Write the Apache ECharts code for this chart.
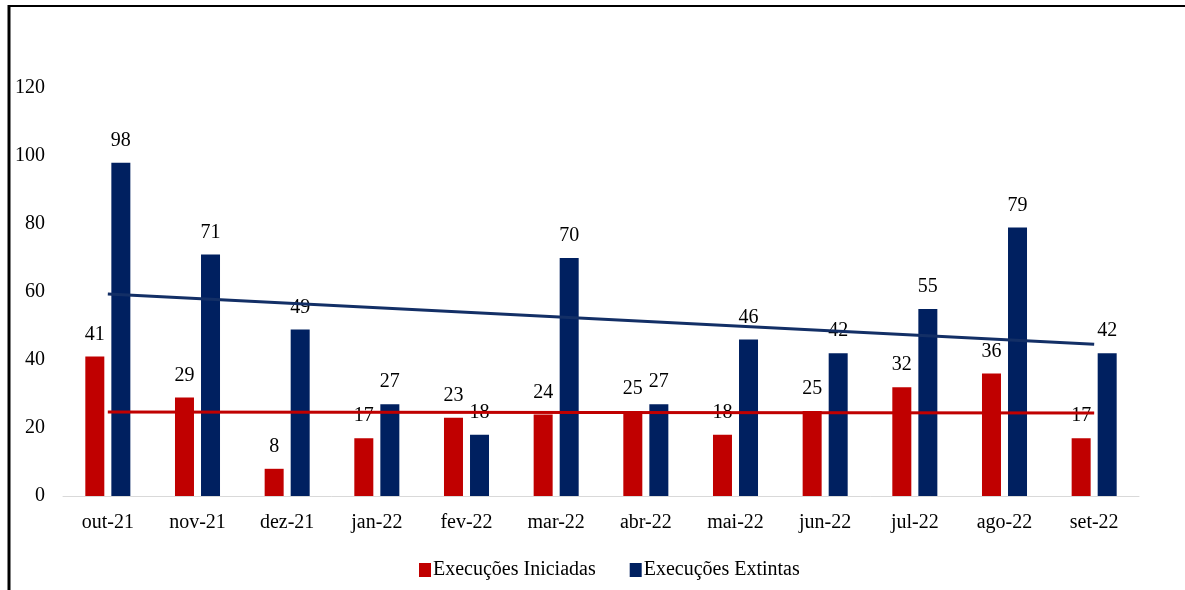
<!DOCTYPE html>
<html>
<head>
<meta charset="utf-8">
<script src="https://cdn.jsdelivr.net/npm/echarts@6/dist/echarts.min.js"></script>
<style>
  html, body { margin: 0; padding: 0; background: #fff; }
  #main { width: 1185px; height: 590px; }
</style>
</head>
<body>
<div id="main"></div>
<script>
// dados do gráfico
const meses = ['out-21', 'nov-21', 'dez-21', 'jan-22', 'fev-22', 'mar-22', 'abr-22', 'mai-22', 'jun-22', 'jul-22', 'ago-22', 'set-22']
const iniciadas = [41, 29, 8, 17, 23, 24, 25, 18, 25, 32, 36, 17]
const extintas = [98, 71, 49, 27, 18, 70, 27, 46, 42, 55, 79, 42]
// linhas de tendência (início e fim)
const tendIniciadas = [24.7, 24.4]
const tendExtintas = [59.4, 44.6]

const fonte = 'Liberation Serif'
const vermelho = '#c00000'
const azul = '#002060'

var myChart = echarts.init(document.getElementById('main'))

const label = {
  show: true,
  position: 'top',
  distance: 12,
  color: '#000',
  fontFamily: fonte,
  fontSize: 20
}

const option = {
  animation: false,
  textStyle: { fontFamily: fonte },
  grid: { left: 63, right: 46, top: 88, bottom: 94 },
  legend: {
    data: ['Execuções Iniciadas', 'Execuções Extintas'],
    bottom: 5,
    left: 414,
    itemWidth: 12,
    itemHeight: 14,
    itemGap: 34,
    icon: 'rect',
    textStyle: { fontFamily: fonte, fontSize: 20, color: '#000', padding: [0, 0, 0, -3] }
  },
  xAxis: {
    type: 'category',
    data: meses,
    axisLine: { lineStyle: { color: '#d9d9d9', width: 1 } },
    axisTick: { show: false },
    axisLabel: { color: '#000', fontFamily: fonte, fontSize: 20, margin: 17 }
  },
  yAxis: {
    type: 'value',
    min: 0,
    max: 120,
    interval: 20,
    splitLine: { show: false },
    axisLine: { show: false },
    axisTick: { show: false },
    axisLabel: { color: '#000', fontFamily: fonte, fontSize: 20, margin: 18 }
  },
  graphic: [
    { type: 'line', shape: { x1: 9, y1: 5, x2: 9, y2: 590 }, style: { stroke: '#000', lineWidth: 3 } },
    { type: 'line', shape: { x1: 8, y1: 6, x2: 1185, y2: 6 }, style: { stroke: '#000', lineWidth: 2 } }
  ],
  series: [
    {
      name: 'Execuções Iniciadas',
      type: 'bar',
      data: iniciadas,
      barWidth: 19,
      barGap: '37%',
      itemStyle: { color: vermelho },
      label: label
    },
    {
      name: 'Execuções Extintas',
      type: 'bar',
      data: extintas,
      barWidth: 19,
      barGap: '37%',
      itemStyle: { color: azul },
      label: label
    },
    {
      name: 'Tendência Iniciadas',
      type: 'line',
      data: [[meses[0], tendIniciadas[0]], [meses[meses.length - 1], tendIniciadas[1]]],
      symbol: 'none',
      lineStyle: { color: vermelho, width: 3 },
      z: 3
    },
    {
      name: 'Tendência Extintas',
      type: 'line',
      data: [[meses[0], tendExtintas[0]], [meses[meses.length - 1], tendExtintas[1]]],
      symbol: 'none',
      lineStyle: { color: '#132f66', width: 3 },
      z: 3
    }
  ]
}

myChart.setOption(option)
</script>
</body>
</html>
